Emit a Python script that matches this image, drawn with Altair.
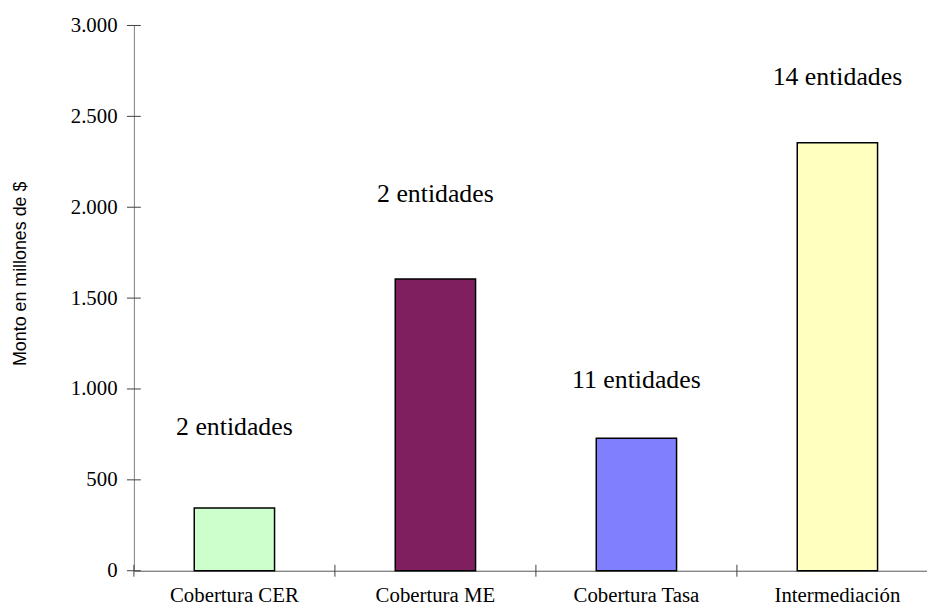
import altair as alt
import pandas as pd

categories = ["Cobertura CER", "Cobertura ME", "Cobertura Tasa", "Intermediación"]
montos = [345, 1605, 729, 2355]
etiquetas = ["2 entidades", "2 entidades", "11 entidades", "14 entidades"]
altura_etiqueta = [789, 2075, 1051, 2714]
colores = ["#CCFFCC", "#7F1F5F", "#8080FF", "#FFFFC0"]
y_ticks = [0, 500, 1000, 1500, 2000, 2500, 3000]

df = pd.DataFrame({
    "cat": categories,
    "monto": montos,
    "label": etiquetas,
    "label_y": altura_etiqueta,
})
tick_df = pd.DataFrame({"v": y_ticks})

SERIF = "Liberation Serif"

xscale = alt.Scale(domain=categories, range=[0, 811], paddingInner=0, paddingOuter=0)
yscale = alt.Scale(domain=[0, 3000], nice=False, zero=True)

x_axis = alt.Axis(
    title=None, labelFont=SERIF, labelFontSize=21, labelColor="black",
    labelPadding=14, ticks=False, tickSize=0, domain=True, domainColor="#555555",
    labelAngle=0, grid=False,
)
y_axis = alt.Axis(
    title="Monto en millones de $", titleFont="Liberation Sans", titleFontSize=18,
    titleFontWeight="normal", titleColor="black", titleX=-114, titleY=250,
    titleAngle=270, titleAlign="center", titleBaseline="middle",
    values=y_ticks, labelExpr="replace(format(datum.value, ','), ',', '.')",
    labelFont=SERIF, labelFontSize=21, labelColor="black",
    labelPadding=17, ticks=False, tickSize=0, domain=True, domainColor="#808080",
    grid=False,
)

X = alt.X("cat:N", sort=categories, scale=xscale, axis=x_axis)
Y = alt.Y("monto:Q", scale=yscale, axis=y_axis)

bars = alt.Chart(df).mark_bar(size=81, stroke="black", strokeWidth=1.5).encode(
    x=X,
    y=Y,
    color=alt.Color("cat:N", scale=alt.Scale(domain=categories, range=colores), legend=None),
)

labels = alt.Chart(df).mark_text(
    font=SERIF, fontSize=26, color="black", baseline="middle", align="center"
).encode(
    x=alt.X("cat:N", sort=categories, scale=xscale),
    y=alt.Y("label_y:Q", scale=yscale),
    text="label:N",
)

y_tick_marks = alt.Chart(tick_df).mark_rule(color="#404040", strokeWidth=1).encode(
    y=alt.Y("v:Q", scale=yscale),
    x=alt.value(-7),
    x2=alt.value(7),
)

x_tick_marks = alt.Chart(df).mark_rule(color="#404040", strokeWidth=1).encode(
    x=alt.X("cat:N", sort=categories, scale=xscale, bandPosition=0),
    y=alt.value(544),
    y2=alt.value(556),
)

chart = alt.layer(bars, labels, y_tick_marks, x_tick_marks).properties(
    width=800,
    height=550,
    padding={"left": 127, "top": 15, "right": 0, "bottom": 39},
    autosize=alt.AutoSizeParams(type="none"),
    background="white",
).configure_view(stroke=None).configure_text(font=SERIF)

chart.save("out.html", embed_options={"renderer": "svg", "actions": False})
